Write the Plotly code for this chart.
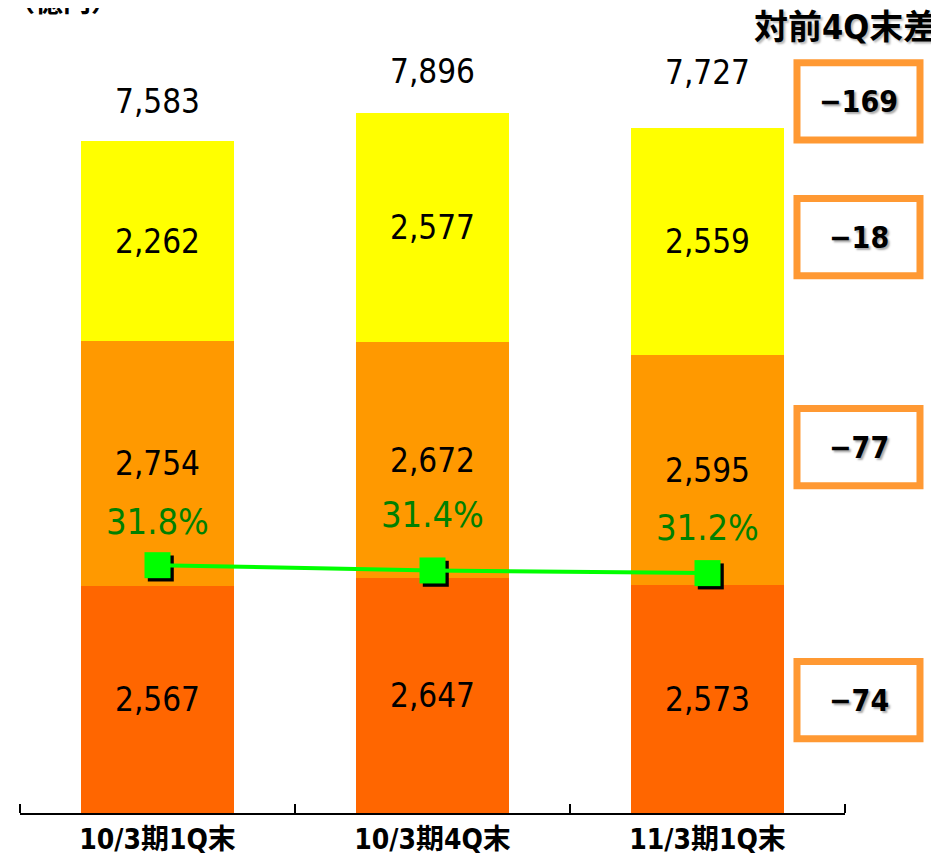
import plotly.graph_objects as go

categories = ["10/3期1Q末", "10/3期4Q末", "11/3期1Q末"]
bottom_vals = [2567, 2647, 2573]
middle_vals = [2754, 2672, 2595]
top_vals = [2262, 2577, 2559]
totals = [7583, 7896, 7727]
ratio_pct = [31.8, 31.4, 31.2]
ratio_labels = ["31.8%", "31.4%", "31.2%"]
diff_labels = ["−169", "−18", "−77", "−74"]
header_text = "対前4Q末差"
unit_text = "（億円）"

NARROW = "DejaVu Sans Condensed, Liberation Sans Narrow, Noto Sans CJK JP, sans-serif"
BOLDCJK = "DejaVu Sans Condensed, Noto Sans CJK JP, sans-serif"

x = list(range(len(categories)))

fig = go.Figure()

def fmt(v):
    return f"{v:,}"

for vals, color in [(bottom_vals, "#FF6600"), (middle_vals, "#FF9900"), (top_vals, "#FFFF00")]:
    fig.add_trace(go.Bar(
        x=x, y=vals, marker=dict(color=color, line=dict(width=0)),
        text=[fmt(v) for v in vals], textposition="inside", insidetextanchor="middle",
        textangle=0,
        textfont=dict(family=NARROW, size=33, color="black"),
        hoverinfo="skip", showlegend=False,
    ))

# shadow markers
fig.add_trace(go.Scatter(
    x=[v + 0.012 for v in x], y=[v - 0.25 for v in ratio_pct], yaxis="y2",
    mode="markers", marker=dict(symbol="square", size=26, color="black"),
    hoverinfo="skip", showlegend=False,
))
fig.add_trace(go.Scatter(
    x=x, y=ratio_pct, yaxis="y2", mode="lines+markers",
    line=dict(color="#00FF00", width=4),
    marker=dict(symbol="square", size=26, color="#00FF00", line=dict(width=0)),
    hoverinfo="skip", showlegend=False,
))

annotations = []
total_shift = [40, 42, 56]
for i, t in enumerate(totals):
    annotations.append(dict(x=x[i], y=t, xref="x", yref="y", text=fmt(t),
                            showarrow=False, yanchor="middle", yshift=total_shift[i],
                            font=dict(family=NARROW, size=33, color="black")))
pct_shift = [44, 56, 46]
for i, p in enumerate(ratio_pct):
    annotations.append(dict(x=x[i], y=p, xref="x", yref="y2", text=ratio_labels[i],
                            showarrow=False, yanchor="middle", yshift=pct_shift[i],
                            font=dict(family=NARROW, size=36, color="#008000")))

# right-side difference boxes
box_centers = [8031, 6499, 4128, 1275]
half_h = 436
shapes = []
for c, lab in zip(box_centers, diff_labels):
    shapes.append(dict(type="rect", xref="paper", yref="y", x0=0.9418, x1=1.0909,
                       y0=c - half_h, y1=c + half_h,
                       line=dict(color="#FF9933", width=7), fillcolor="white", layer="above"))
    annotations.append(dict(x=1.0164, y=c, xref="paper", yref="y", text=lab, showarrow=False,
                            xanchor="center", yanchor="middle",
                            font=dict(family=NARROW, size=30,
                                      color="black", weight="bold", shadow="2px 2px 2px #aaaaaa")))

annotations.append(dict(x=1.1138, y=1.0, xref="paper", yref="paper", text=header_text, showarrow=False,
                        xanchor="right", yanchor="middle", yshift=-7,
                        font=dict(family=BOLDCJK, size=34, color="black", weight="bold",
                                  shadow="2px 2px 2px #bbbbbb")))
annotations.append(dict(x=-0.018, y=1.0, xref="paper", yref="paper", text=unit_text, showarrow=False,
                        xanchor="left", yanchor="middle", yshift=18,
                        font=dict(family=BOLDCJK, size=28, color="black", weight="bold")))

fig.update_layout(
    width=931, height=860,
    margin=dict(l=12, r=94, t=12, b=48),
    paper_bgcolor="white", plot_bgcolor="white",
    barmode="stack", bargap=0.444,
    xaxis=dict(range=[-0.5, 2.5], tickvals=x, ticktext=categories, ticks="",
               showline=True, linecolor="black", linewidth=2, showgrid=False, zeroline=False,
               tickfont=dict(family=BOLDCJK, size=28, color="black", weight="bold"),
               minor=dict(tickvals=[-0.5, 0.5, 1.5, 2.5], ticks="inside", ticklen=9,
                          tickcolor="black", tickwidth=1.5, showgrid=False)),
    yaxis=dict(range=[0, 8949], visible=False, showgrid=False, zeroline=False),
    yaxis2=dict(range=[13.05, 73.05], overlaying="y", visible=False, showgrid=False, zeroline=False),
    shapes=shapes, annotations=annotations,
)

fig.write_html("out.html")
